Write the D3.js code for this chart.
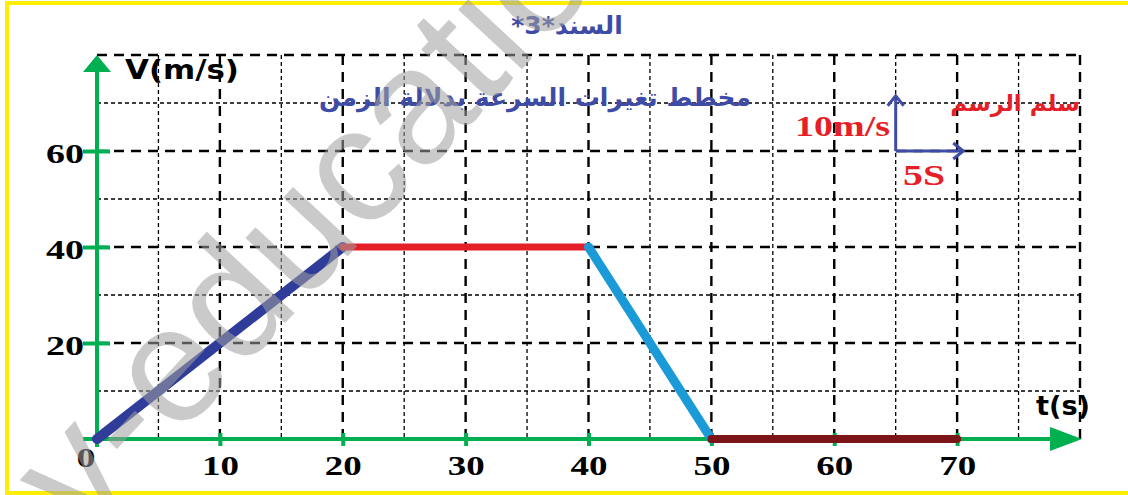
<!DOCTYPE html>
<html>
<head>
<meta charset="utf-8">
<script src="https://cdn.jsdelivr.net/npm/d3@7"></script>
<style>
  body { margin: 0; background: #fff; }
  svg { display: block; }
</style>
</head>
<body>
<div id="chart"></div>
<script>
// data
var times = [0, 20, 40, 50, 70];
var speeds = [0, 40, 40, 0, 0];
var segColors = ["#2f3c9a", "#e51f28", "#1a9bd7", "#7b1517"];
var segWidths = [10, 7, 9, 8];

var tTicks = [10, 20, 30, 40, 50, 60, 70];
var vTicks = [20, 40, 60];
var gridMajorT = [10, 20, 30, 40, 50, 60, 70, 80];
var gridMinorT = [5, 15, 25, 35, 45, 55, 65, 75];
var gridMajorV = [20, 40, 60, 80];
var gridMinorV = [10, 30, 50, 70];

var title = "السند*3*";
var subtitle = "مخطط تغيرات السرعة بدلالة الزمن";
var scaleTitle = "سلم الرسم";
var scaleV = "10m/s";
var scaleT = "5S";

var W = 1128, H = 495;
var green = "#00b050";
var tickFont = "bold 27px 'Liberation Serif', serif";

var svg = d3.select("#chart").append("svg")
  .attr("width", W)
  .attr("height", H);

var x = d3.scaleLinear().domain([0, 80]).range([97, 1080]);
var y = d3.scaleLinear().domain([0, 80]).range([439, 55]);

// yellow frame
svg.append("rect")
  .attr("x", 7).attr("y", 3)
  .attr("width", 1130).attr("height", 490)
  .attr("fill", "none")
  .attr("stroke", "#ffee00")
  .attr("stroke-width", 4);

// grid
var grid = svg.append("g").attr("class", "grid");
grid.selectAll(".vmin").data(gridMinorT).enter().append("line")
  .attr("x1", d => x(d)).attr("x2", d => x(d))
  .attr("y1", y(80)).attr("y2", y(0))
  .attr("stroke", "#000").attr("stroke-width", 1.3)
  .attr("stroke-dasharray", "4,3");
grid.selectAll(".hmin").data(gridMinorV).enter().append("line")
  .attr("x1", x(0)).attr("x2", x(80))
  .attr("y1", d => y(d)).attr("y2", d => y(d))
  .attr("stroke", "#000").attr("stroke-width", 1.3)
  .attr("stroke-dasharray", "4,3");
grid.selectAll(".vmaj").data(gridMajorT).enter().append("line")
  .attr("x1", d => x(d)).attr("x2", d => x(d))
  .attr("y1", y(80)).attr("y2", y(0))
  .attr("stroke", "#000").attr("stroke-width", 2.4)
  .attr("stroke-dasharray", "10,7");
grid.selectAll(".hmaj").data(gridMajorV).enter().append("line")
  .attr("x1", x(0)).attr("x2", x(80))
  .attr("y1", d => y(d)).attr("y2", d => y(d))
  .attr("stroke", "#000").attr("stroke-width", 2.4)
  .attr("stroke-dasharray", "10,7");

// axes lines + arrows
svg.append("line")
  .attr("x1", 83).attr("x2", x(80) - 20)
  .attr("y1", y(0)).attr("y2", y(0))
  .attr("stroke", green).attr("stroke-width", 4);
svg.append("path")
  .attr("d", "M" + (x(80) + 2) + "," + y(0) + " L" + (x(80) - 30) + "," + (y(0) - 12) + " L" + (x(80) - 30) + "," + (y(0) + 12) + "Z")
  .attr("fill", green);
svg.append("line")
  .attr("x1", x(0)).attr("x2", x(0))
  .attr("y1", y(0) + 8).attr("y2", y(80) + 12)
  .attr("stroke", green).attr("stroke-width", 4);
svg.append("path")
  .attr("d", "M" + x(0) + "," + y(80) + " L" + (x(0) - 14) + "," + (y(80) + 17) + " L" + (x(0) + 14) + "," + (y(80) + 17) + "Z")
  .attr("fill", green);

var xAxis = d3.axisBottom(x).tickValues(tTicks).tickSize(0).tickPadding(0);
var xAxisG = svg.append("g")
  .attr("transform", "translate(0," + y(0) + ")")
  .call(xAxis);
xAxisG.select(".domain").remove();
xAxisG.selectAll(".tick line")
  .attr("y1", -6).attr("y2", 7)
  .attr("stroke", green).attr("stroke-width", 4);
xAxisG.selectAll(".tick text")
  .attr("y", 36).attr("dy", 0)
  .attr("fill", "#000")
  .attr("textLength", 37)
  .attr("lengthAdjust", "spacingAndGlyphs")
  .style("font", tickFont);

var yAxis = d3.axisLeft(y).tickValues(vTicks).tickSize(0).tickPadding(0);
var yAxisG = svg.append("g")
  .attr("transform", "translate(" + x(0) + ",0)")
  .call(yAxis);
yAxisG.select(".domain").remove();
yAxisG.selectAll(".tick line")
  .attr("x1", -14).attr("x2", 13)
  .attr("stroke", green).attr("stroke-width", 4);
yAxisG.selectAll(".tick text")
  .attr("x", -13).attr("y", 11).attr("dy", 0)
  .attr("fill", "#000")
  .attr("textLength", 38)
  .attr("lengthAdjust", "spacingAndGlyphs")
  .style("font", tickFont);

svg.append("text")
  .attr("x", 86).attr("y", 467)
  .attr("text-anchor", "middle")
  .attr("textLength", 19)
  .attr("lengthAdjust", "spacingAndGlyphs")
  .style("font", tickFont)
  .text("0");

// axis titles
svg.append("text")
  .attr("x", 125).attr("y", 79)
  .attr("textLength", 114)
  .attr("lengthAdjust", "spacingAndGlyphs")
  .style("font", "bold 27px 'DejaVu Sans', sans-serif")
  .text("V(m/s)");
svg.append("text")
  .attr("x", 1036).attr("y", 415)
  .attr("textLength", 54)
  .attr("lengthAdjust", "spacingAndGlyphs")
  .style("font", "bold 26px 'DejaVu Sans', sans-serif")
  .text("t(s)");

// velocity segments
var segs = d3.range(times.length - 1).map(i => ({
  x1: times[i], y1: speeds[i], x2: times[i + 1], y2: speeds[i + 1],
  c: segColors[i], w: segWidths[i]
}));
svg.append("g").selectAll("line").data(segs).enter().append("line")
  .attr("x1", d => x(d.x1)).attr("y1", d => y(d.y1))
  .attr("x2", d => x(d.x2)).attr("y2", d => y(d.y2))
  .attr("stroke", d => d.c)
  .attr("stroke-width", d => d.w)
  .attr("stroke-linecap", "round");

// titles
svg.append("text")
  .attr("x", 567).attr("y", 34)
  .attr("text-anchor", "middle")
  .attr("direction", "rtl")
  .attr("fill", "#3f4ca6")
  .style("font", "bold 25px 'DejaVu Sans', sans-serif")
  .text(title);
svg.append("text")
  .attr("x", 535).attr("y", 106)
  .attr("text-anchor", "middle")
  .attr("direction", "rtl")
  .attr("fill", "#3f4ca6")
  .style("font", "bold 25px 'DejaVu Sans', sans-serif")
  .text(subtitle);

// drawing scale
svg.append("text")
  .attr("x", 1015).attr("y", 111)
  .attr("text-anchor", "middle")
  .attr("direction", "rtl")
  .attr("fill", "#e51f28")
  .style("font", "bold 23px 'DejaVu Sans', sans-serif")
  .text(scaleTitle);

var arrowBlue = "#3f4ca6";
svg.append("line")
  .attr("x1", x(65)).attr("y1", y(60))
  .attr("x2", x(65)).attr("y2", y(71.5))
  .attr("stroke", arrowBlue).attr("stroke-width", 3);
svg.append("path")
  .attr("d", "M" + (x(65) - 8) + "," + (y(71.5) + 10) + " L" + x(65) + "," + y(71.5) + " L" + (x(65) + 8) + "," + (y(71.5) + 10))
  .attr("fill", "none").attr("stroke", arrowBlue).attr("stroke-width", 3);
svg.append("line")
  .attr("x1", x(65)).attr("y1", y(60))
  .attr("x2", x(70.5)).attr("y2", y(60))
  .attr("stroke", arrowBlue).attr("stroke-width", 3);
svg.append("path")
  .attr("d", "M" + (x(70.5) - 10) + "," + (y(60) - 8) + " L" + x(70.5) + "," + y(60) + " L" + (x(70.5) - 10) + "," + (y(60) + 8))
  .attr("fill", "none").attr("stroke", arrowBlue).attr("stroke-width", 3);
svg.append("text")
  .attr("x", 795).attr("y", 136)
  .attr("textLength", 95)
  .attr("lengthAdjust", "spacingAndGlyphs")
  .attr("fill", "#e51f28")
  .style("font", "bold 29px 'Liberation Serif', serif")
  .text(scaleV);
svg.append("text")
  .attr("x", 903).attr("y", 185)
  .attr("textLength", 42)
  .attr("lengthAdjust", "spacingAndGlyphs")
  .attr("fill", "#e51f28")
  .style("font", "bold 29px 'Liberation Serif', serif")
  .text(scaleT);

// watermark
svg.append("text")
  .attr("transform", "translate(83,540) rotate(-47)")
  .attr("fill", "#a0a0a0")
  .attr("opacity", 0.55)
  .style("font", "165px 'Liberation Sans', sans-serif")
  .text("v-education");
</script>
</body>
</html>
